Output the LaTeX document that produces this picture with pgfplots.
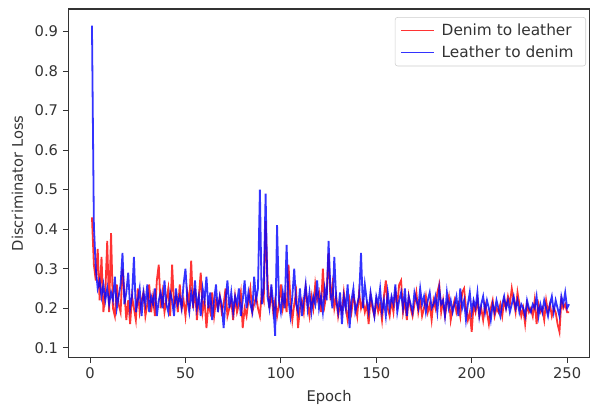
\documentclass[border=0pt]{standalone}
\usepackage{pgfplots}
\usepackage{pgfplotstable}
\pgfplotsset{compat=1.18}
\usepackage{fontspec}
\setmainfont{DejaVu Sans}

\pgfplotstableread[row sep=\\]{
v\\
0.43\\ 0.31\\ 0.27\\ 0.35\\ 0.22\\ 0.33\\ 0.19\\ 0.24\\ 0.37\\ 0.19\\
0.39\\ 0.20\\ 0.18\\ 0.26\\ 0.21\\ 0.19\\ 0.30\\ 0.24\\ 0.17\\ 0.22\\
0.16\\ 0.23\\ 0.20\\ 0.17\\ 0.25\\ 0.19\\ 0.22\\ 0.24\\ 0.18\\ 0.21\\
0.26\\ 0.19\\ 0.23\\ 0.18\\ 0.27\\ 0.31\\ 0.20\\ 0.24\\ 0.19\\ 0.22\\
0.25\\ 0.18\\ 0.31\\ 0.21\\ 0.23\\ 0.19\\ 0.26\\ 0.20\\ 0.22\\ 0.18\\
0.24\\ 0.21\\ 0.32\\ 0.20\\ 0.25\\ 0.17\\ 0.23\\ 0.29\\ 0.19\\ 0.22\\
0.15\\ 0.21\\ 0.19\\ 0.24\\ 0.18\\ 0.22\\ 0.20\\ 0.23\\ 0.19\\ 0.21\\
0.25\\ 0.18\\ 0.20\\ 0.22\\ 0.17\\ 0.23\\ 0.19\\ 0.21\\ 0.24\\ 0.15\\
0.20\\ 0.18\\ 0.22\\ 0.25\\ 0.19\\ 0.21\\ 0.23\\ 0.20\\ 0.18\\ 0.24\\
0.22\\ 0.42\\ 0.27\\ 0.20\\ 0.24\\ 0.19\\ 0.22\\ 0.18\\ 0.21\\ 0.26\\
0.20\\ 0.23\\ 0.19\\ 0.31\\ 0.22\\ 0.17\\ 0.21\\ 0.24\\ 0.15\\ 0.20\\
0.22\\ 0.19\\ 0.25\\ 0.21\\ 0.18\\ 0.23\\ 0.20\\ 0.26\\ 0.22\\ 0.24\\
0.19\\ 0.30\\ 0.21\\ 0.24\\ 0.34\\ 0.22\\ 0.26\\ 0.20\\ 0.23\\ 0.18\\
0.21\\ 0.19\\ 0.24\\ 0.20\\ 0.17\\ 0.22\\ 0.19\\ 0.23\\ 0.21\\ 0.18\\
0.24\\ 0.20\\ 0.22\\ 0.19\\ 0.21\\ 0.16\\ 0.23\\ 0.20\\ 0.18\\ 0.22\\
0.19\\ 0.21\\ 0.17\\ 0.23\\ 0.27\\ 0.20\\ 0.18\\ 0.22\\ 0.19\\ 0.24\\
0.21\\ 0.26\\ 0.27\\ 0.19\\ 0.22\\ 0.17\\ 0.23\\ 0.20\\ 0.18\\ 0.21\\
0.24\\ 0.19\\ 0.22\\ 0.18\\ 0.20\\ 0.23\\ 0.19\\ 0.21\\ 0.17\\ 0.22\\
0.20\\ 0.24\\ 0.26\\ 0.19\\ 0.22\\ 0.18\\ 0.21\\ 0.23\\ 0.17\\ 0.20\\
0.22\\ 0.19\\ 0.21\\ 0.18\\ 0.24\\ 0.25\\ 0.20\\ 0.17\\ 0.19\\ 0.14\\
0.21\\ 0.19\\ 0.22\\ 0.18\\ 0.20\\ 0.17\\ 0.21\\ 0.19\\ 0.16\\ 0.20\\
0.22\\ 0.18\\ 0.20\\ 0.19\\ 0.21\\ 0.18\\ 0.22\\ 0.20\\ 0.23\\ 0.21\\
0.25\\ 0.22\\ 0.19\\ 0.24\\ 0.21\\ 0.18\\ 0.20\\ 0.16\\ 0.21\\ 0.19\\
0.20\\ 0.18\\ 0.22\\ 0.16\\ 0.21\\ 0.19\\ 0.20\\ 0.17\\ 0.22\\ 0.19\\
0.21\\ 0.18\\ 0.20\\ 0.19\\ 0.16\\ 0.14\\ 0.22\\ 0.20\\ 0.21\\ 0.19\\
0.19\\
}\denimdata

\pgfplotstableread[row sep=\\]{
v\\
0.915\\ 0.41\\ 0.30\\ 0.25\\ 0.27\\ 0.23\\ 0.26\\ 0.22\\ 0.25\\ 0.21\\
0.24\\ 0.22\\ 0.28\\ 0.20\\ 0.23\\ 0.26\\ 0.34\\ 0.21\\ 0.24\\ 0.29\\
0.20\\ 0.23\\ 0.33\\ 0.19\\ 0.22\\ 0.25\\ 0.18\\ 0.24\\ 0.21\\ 0.26\\
0.19\\ 0.23\\ 0.21\\ 0.25\\ 0.18\\ 0.22\\ 0.24\\ 0.20\\ 0.27\\ 0.21\\
0.19\\ 0.24\\ 0.22\\ 0.18\\ 0.25\\ 0.21\\ 0.23\\ 0.20\\ 0.26\\ 0.30\\
0.22\\ 0.19\\ 0.24\\ 0.21\\ 0.27\\ 0.20\\ 0.23\\ 0.18\\ 0.25\\ 0.22\\
0.28\\ 0.20\\ 0.24\\ 0.17\\ 0.22\\ 0.26\\ 0.19\\ 0.23\\ 0.21\\ 0.15\\
0.22\\ 0.27\\ 0.20\\ 0.24\\ 0.19\\ 0.23\\ 0.21\\ 0.25\\ 0.18\\ 0.22\\
0.27\\ 0.20\\ 0.24\\ 0.21\\ 0.19\\ 0.28\\ 0.22\\ 0.25\\ 0.50\\ 0.21\\
0.25\\ 0.49\\ 0.23\\ 0.20\\ 0.26\\ 0.21\\ 0.13\\ 0.41\\ 0.22\\ 0.19\\
0.24\\ 0.20\\ 0.36\\ 0.22\\ 0.18\\ 0.23\\ 0.30\\ 0.21\\ 0.19\\ 0.25\\
0.18\\ 0.22\\ 0.26\\ 0.20\\ 0.24\\ 0.19\\ 0.23\\ 0.21\\ 0.27\\ 0.20\\
0.23\\ 0.19\\ 0.25\\ 0.22\\ 0.37\\ 0.24\\ 0.20\\ 0.33\\ 0.22\\ 0.19\\
0.24\\ 0.16\\ 0.23\\ 0.20\\ 0.26\\ 0.15\\ 0.22\\ 0.25\\ 0.19\\ 0.21\\
0.23\\ 0.34\\ 0.20\\ 0.26\\ 0.22\\ 0.19\\ 0.24\\ 0.21\\ 0.18\\ 0.23\\
0.21\\ 0.25\\ 0.19\\ 0.22\\ 0.18\\ 0.24\\ 0.20\\ 0.23\\ 0.21\\ 0.26\\
0.19\\ 0.22\\ 0.24\\ 0.20\\ 0.25\\ 0.18\\ 0.23\\ 0.21\\ 0.19\\ 0.24\\
0.22\\ 0.20\\ 0.25\\ 0.21\\ 0.23\\ 0.19\\ 0.22\\ 0.24\\ 0.20\\ 0.21\\
0.23\\ 0.19\\ 0.25\\ 0.21\\ 0.22\\ 0.18\\ 0.24\\ 0.20\\ 0.22\\ 0.19\\
0.21\\ 0.23\\ 0.18\\ 0.25\\ 0.20\\ 0.22\\ 0.17\\ 0.21\\ 0.24\\ 0.19\\
0.22\\ 0.20\\ 0.24\\ 0.18\\ 0.21\\ 0.23\\ 0.19\\ 0.22\\ 0.20\\ 0.17\\
0.21\\ 0.19\\ 0.22\\ 0.20\\ 0.18\\ 0.21\\ 0.23\\ 0.20\\ 0.22\\ 0.19\\
0.21\\ 0.23\\ 0.20\\ 0.22\\ 0.19\\ 0.21\\ 0.20\\ 0.18\\ 0.22\\ 0.20\\
0.19\\ 0.21\\ 0.20\\ 0.23\\ 0.18\\ 0.21\\ 0.19\\ 0.22\\ 0.20\\ 0.18\\
0.21\\ 0.23\\ 0.19\\ 0.22\\ 0.20\\ 0.18\\ 0.23\\ 0.21\\ 0.24\\ 0.20\\
0.21\\
}\leatherdata

\begin{document}
\begin{tikzpicture}
\path[use as bounding box] (-51pt,-35.25pt) rectangle (390.75pt,267.75pt);
\begin{axis}[
  at={(0,0)}, anchor=south west,
  scale only axis,
  width=390.75pt, height=261pt,
  xmin=-11.5, xmax=262,
  ymin=0.075, ymax=0.957,
  xtick={0,50,100,150,200,250},
  ytick={0.1,0.2,0.3,0.4,0.5,0.6,0.7,0.8,0.9},
  yticklabel style={/pgf/number format/.cd, fixed, fixed zerofill, precision=1},
  /pgf/number format/assume math mode=true,
  tick align=outside,
  major tick length=4pt,
  xtick pos=bottom, ytick pos=left,
  axis line style={black!80, line width=0.8pt},
  tick style={black!80, line width=0.7pt},
  tick label style={font=\fontsize{11}{13}\selectfont, text=black!80},
  label style={font=\fontsize{11}{13}\selectfont, text=black!80},
  xlabel={Epoch},
  ylabel={Discriminator Loss},
  xlabel style={at={(axis description cs:0.5,0)}, anchor=center, yshift=-30pt},
  ylabel style={at={(axis description cs:-0.0973,0.5)}, anchor=center},
  legend style={at={(axis description cs:1,1)}, anchor=north east,
    xshift=-3pt, yshift=-6pt, draw=black!20, rounded corners=2pt,
    font=\fontsize{11.5}{13.5}\selectfont, text=black!80,
    inner xsep=4pt, inner ysep=3pt, row sep=2pt,
    nodes={inner xsep=5pt}},
  legend cell align=left,
  legend image code/.code={\draw[#1, line width=0.9pt] (0pt,0pt) -- (25pt,0pt);},
]
\addplot[red, opacity=0.8, line width=1.35pt] table[x expr=\coordindex+1, y=v] {\denimdata};
\addlegendentry{Denim to leather}
\addplot[blue, opacity=0.8, line width=1.35pt] table[x expr=\coordindex+1, y=v] {\leatherdata};
\addlegendentry{Leather to denim}
\end{axis}
\end{tikzpicture}
\end{document}
